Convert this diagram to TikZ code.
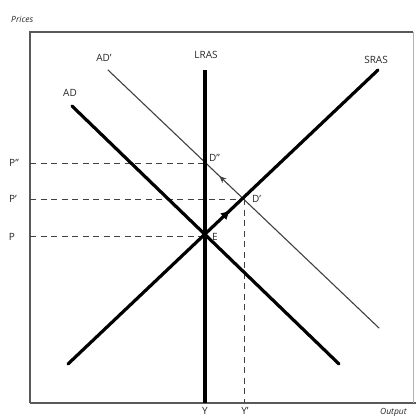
\documentclass[tikz,border=0pt]{standalone}
\usepackage{fontspec}
\setmainfont{Open Sans}
\usetikzlibrary{arrows.meta,decorations.markings}
\begin{document}
\begin{tikzpicture}[x=1pt,y=-1pt,
  lbl/.style={font=\fontsize{10}{11}\selectfont, text=black!85, inner sep=0pt},
  axlbl/.style={font=\fontsize{8.5}{9}\selectfont\itshape, text=black!85, inner sep=0pt},
  curve/.style={line width=3.2pt, line cap=round, black},
  thincurve/.style={line width=1.1pt, line cap=round, black!75},
  guide/.style={line width=0.9pt, black!75, dash pattern=on 6pt off 4.5pt},
  frame/.style={line width=1.2pt, black!65}
]
\useasboundingbox (0,0) rectangle (416,417);
% frame
\coordinate (tl) at (30,32);
\coordinate (bl) at (30,403);
\coordinate (tr) at (413,32);
\coordinate (br) at (416,403);
\coordinate (brr) at (413,403);
\draw[frame] (bl) -- (tl) -- (tr);
\draw[frame] (bl) -- (br);
\draw[line width=0.8pt, black!30] (tr) -- (brr);
% key points
\coordinate (E) at (205,236);
\coordinate (Dp) at (244,199);
\coordinate (Dpp) at (205,163);
\coordinate (Pa) at (30,236);
\coordinate (Pb) at (30,199);
\coordinate (Pc) at (30,163);
\coordinate (Yb) at (205,403);
\coordinate (Ypb) at (244,403);
% curves
\coordinate (lrasT) at (205,70);
\coordinate (srasA) at (68,364);
\coordinate (srasB) at (378,70);
\coordinate (adA) at (72,106);
\coordinate (adB) at (339,364);
\coordinate (adpA) at (108,70);
\coordinate (adpB) at (379,328);
% guides
\draw[guide] (Pc) -- (Dpp);
\draw[guide] (Pb) -- (Dp);
\draw[guide] (Pa) -- (E);
\draw[guide] (Dp) -- (Ypb);
% AD'
\draw[thincurve, postaction={decorate}, decoration={markings, mark=at position 0.43 with {\arrow{Stealth[length=7pt,width=6pt,reversed]}}}] (adpA) -- (adpB);
% AD
\draw[curve] (adA) -- (adB);
% SRAS
\draw[curve, postaction={decorate}, decoration={markings, mark=at position 0.52 with {\arrow{Triangle[length=8pt,width=8pt]}}}] (srasA) -- (srasB);
% LRAS
\draw[line width=3.2pt, black] (lrasT) -- (Yb);
% labels
\node[axlbl, anchor=west] (prices) at (11,19) {Prices};
\node[axlbl, anchor=west] (output) at (380,412) {Output};
\node[lbl] (lrasL) at (206,55) {LRAS};
\node[lbl] (srasL) at (376,60) {SRAS};
\node[lbl] (adL) at (70,93) {AD};
\node[lbl] (adpL) at (104,58) {AD'};
\node[lbl] (pcL) at (14,163) {P''};
\node[lbl] (pbL) at (13,199) {P'};
\node[lbl] (paL) at (12,237) {P};
\node[lbl, anchor=west] (dppL) at (209,158) {D''};
\node[lbl, anchor=west] (dpL) at (252,199) {D'};
\node[lbl, anchor=west] (eL) at (212,237) {E};
\node[lbl] (yL) at (205,411) {Y};
\node[lbl] (ypL) at (245,411) {Y'};
\end{tikzpicture}
\end{document}
